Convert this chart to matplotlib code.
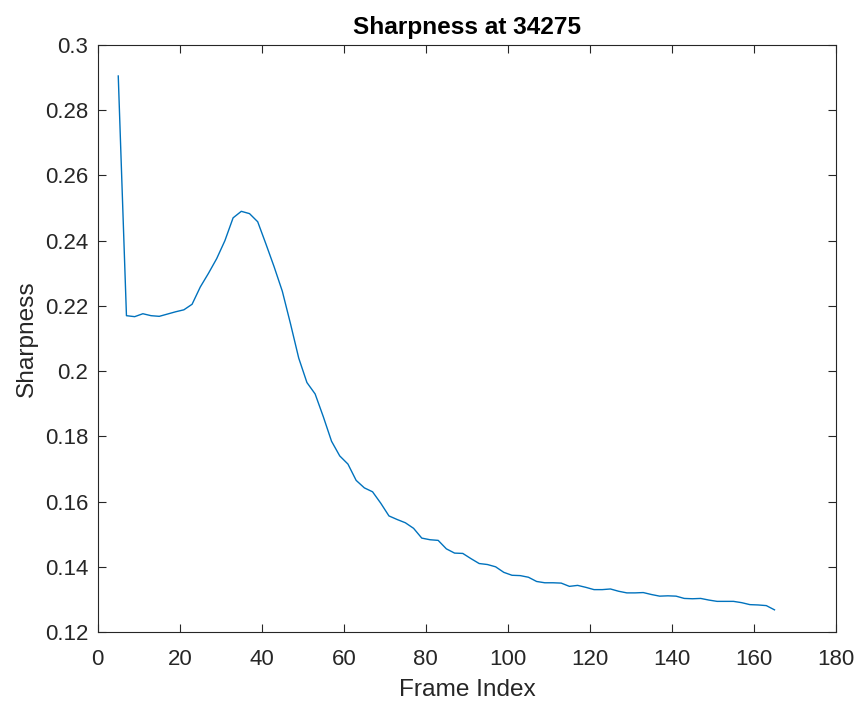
import matplotlib
matplotlib.use("Agg")
import matplotlib.pyplot as plt

frames = list(range(5, 166, 2))
sharpness = [
    0.2905, 0.2170, 0.2167, 0.2176, 0.2170, 0.2168, 0.2175, 0.2182, 0.2188, 0.2205,
    0.2258, 0.2300, 0.2345, 0.2400, 0.2470, 0.2490, 0.2483, 0.2458, 0.2390, 0.2320,
    0.2245, 0.2145, 0.2040, 0.1965, 0.1930, 0.1860, 0.1785, 0.1740, 0.1715, 0.1665,
    0.1642, 0.1630, 0.1595, 0.1556, 0.1545, 0.1535, 0.1518, 0.1488, 0.1483, 0.1481,
    0.1455, 0.1442, 0.1441, 0.1425, 0.1410, 0.1407, 0.1400, 0.1383, 0.1374, 0.1373,
    0.1368, 0.1355, 0.1351, 0.1351, 0.1350, 0.1340, 0.1343, 0.1337, 0.1330, 0.1330,
    0.1332, 0.1325, 0.1320, 0.1320, 0.1321, 0.1315, 0.1310, 0.1311, 0.1310, 0.1303,
    0.1302, 0.1303, 0.1298, 0.1294, 0.1294, 0.1294, 0.1290, 0.1284, 0.1283, 0.1281,
    0.1268,
]
x_ticks = [0, 20, 40, 60, 80, 100, 120, 140, 160, 180]
y_ticks = [0.12, 0.14, 0.16, 0.18, 0.2, 0.22, 0.24, 0.26, 0.28, 0.3]
y_tick_labels = ["0.12", "0.14", "0.16", "0.18", "0.2", "0.22", "0.24", "0.26", "0.28", "0.3"]

plt.rcParams['font.family'] = ['Liberation Sans', 'DejaVu Sans']
fg = '#262626'

fig = plt.figure(figsize=(8.65, 7.01), dpi=100)
ax = fig.add_axes([0.113, 0.0984, 0.8535, 0.8374])
ax.plot(frames, sharpness, color='#0072BD', linewidth=1.0)
ax.set_xlim(0, 180)
ax.set_ylim(0.12, 0.3)
ax.set_xticks(x_ticks)
ax.set_xticklabels([str(v) for v in x_ticks])
ax.set_yticks(y_ticks)
ax.set_yticklabels(y_tick_labels)
ax.tick_params(direction='in', length=6, width=0.8, top=True, right=True,
               labelsize=16, colors=fg)
ax.tick_params(axis='x', pad=12)
ax.tick_params(axis='y', pad=7)
for s in ax.spines.values():
    s.set_color(fg)
    s.set_linewidth(0.8)
ax.set_xlabel('Frame Index', fontsize=17.6, color=fg, labelpad=7)
ax.set_ylabel('Sharpness', fontsize=17.6, color=fg, labelpad=5)
ax.set_title('Sharpness at 34275', fontsize=17.6, fontweight='bold', color='black', pad=8)
fig.savefig('out.png', dpi=100)
